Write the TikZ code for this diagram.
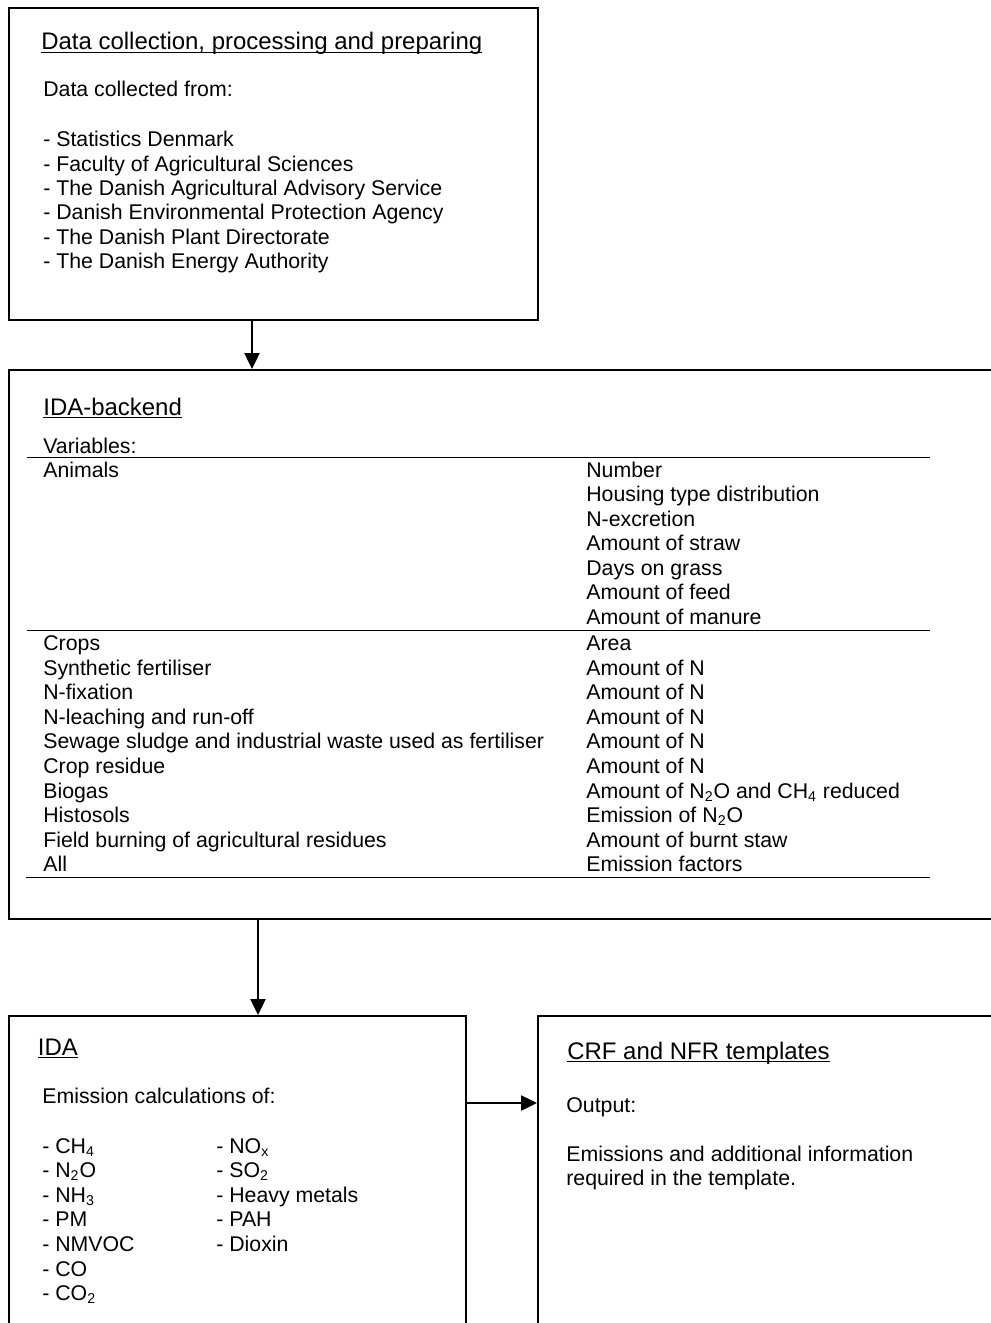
\documentclass[tikz,border=0pt]{standalone}
\usepackage{fontspec}
\setmainfont{Liberation Sans}
\usetikzlibrary{arrows.meta,fit}

% underline that sits just below the baseline
\newcommand{\ulin}[1]{\setbox0\hbox{#1}\rlap{\rule[-1.7pt]{\wd0}{0.65pt}}\box0}

\tikzset{
  box/.style={draw, line width=1.1pt, inner sep=0pt},
  txt/.style={anchor=base west, inner sep=0pt, font=\fontsize{12}{13.8}\selectfont},
  head/.style={txt, font=\fontsize{13.5}{15.5}\selectfont},
  rowline/.style={line width=0.6pt},
  flow/.style={line width=1.1pt, -{Triangle[length=9pt,width=8.5pt]}},
}

\begin{document}
\begin{tikzpicture}[x=0.5634pt, y=-0.5634pt]
            \path[use as bounding box, clip] (0,0) rectangle (991,1323);

            % boxes
            \node[box, fit={(9,8) (538,320)}] (datacoll) {};
            \node[box, fit={(9,370) (1010,919)}] (backend) {};
            \node[box, fit={(9,1016) (466,1340)}] (ida) {};
            \node[box, fit={(538,1016) (1010,1340)}] (crf) {};

            % data collection
            \node[head] (dctitle) at (41,50) {\ulin{Data collection, processing and preparing}};
            \node[txt] (dcfrom) at (43,97) {Data collected from:};
            \foreach \src [count=\i from 0] in {Statistics Denmark, Faculty of Agricultural Sciences,
                The Danish Agricultural Advisory Service, Danish Environmental Protection Agency,
                The Danish Plant Directorate, The Danish Energy Authority}
              \node[txt] (src\i) at (43,147+\i*24.3) {- \src};

            % IDA-backend
            \node[head] (betitle) at (43,415) {\ulin{IDA-backend}};
            \node[txt] (bevars) at (43,453) {Variables:};
            \draw[rowline] (27,457.5) -- (930,457.5);
            \node[txt] (animals) at (43,477) {Animals};
            \foreach \var [count=\i from 0] in {Number, Housing type distribution, N-excretion,
                Amount of straw, Days on grass, Amount of feed, Amount of manure}
              \node[txt] (anvar\i) at (586,477+\i*24.56) {\var};
            \draw[rowline] (27,630.7) -- (930,630.7);
            \foreach \lft/\rgt [count=\i from 0] in {Crops/Area,
                Synthetic fertiliser/Amount of N,
                N-fixation/Amount of N,
                N-leaching and run-off/Amount of N,
                Sewage sludge and industrial waste used as fertiliser/Amount of N,
                Crop residue/Amount of N,
                Biogas/Amount of N\textsubscript{2}O and CH\textsubscript{4} reduced,
                Histosols/Emission of N\textsubscript{2}O,
                Field burning of agricultural residues/Amount of burnt staw,
                All/Emission factors}
            {
              \node[txt] (src\i) at (43,650.7+\i*24.56) {\lft};
              \node[txt] (var\i) at (586,650.7+\i*24.56) {\rgt};
            }
            \draw[rowline] (26,877.5) -- (930,877.5);

            % IDA
            \node[head] (idatitle) at (37.5,1055) {\ulin{IDA}};
            \node[txt] (idacalc) at (42,1103) {Emission calculations of:};
            \foreach \gas [count=\i from 0] in {CH\textsubscript{4}, N\textsubscript{2}O, NH\textsubscript{3},
                PM, NMVOC, CO, CO\textsubscript{2}}
              \node[txt] (gasa\i) at (42,1153+\i*24.6) {- \gas};
            \foreach \gas [count=\i from 0] in {NO\textsubscript{x}, SO\textsubscript{2}, Heavy metals,
                PAH, Dioxin}
              \node[txt] (gasb\i) at (216,1153+\i*24.6) {- \gas};

            % CRF and NFR
            \node[head] (crftitle) at (567,1059) {\ulin{CRF and NFR templates}};
            \node[txt] (crfout) at (566,1112) {Output:};
            \node[txt] (crfem1) at (566,1161) {Emissions and additional information};
            \node[txt] (crfem2) at (566,1185) {required in the template.};

            % arrows
            \coordinate (a1) at (252,0);
            \coordinate (a2) at (258,0);
            \coordinate (a3) at (0,1103);
            \draw[flow] (datacoll.south -| a1) -- (backend.north -| a1);
            \draw[flow] (backend.south -| a2) -- (ida.north -| a2);
            \draw[flow] (ida.east |- a3) -- (crf.west |- a3);
        \end{tikzpicture}
\end{document}
